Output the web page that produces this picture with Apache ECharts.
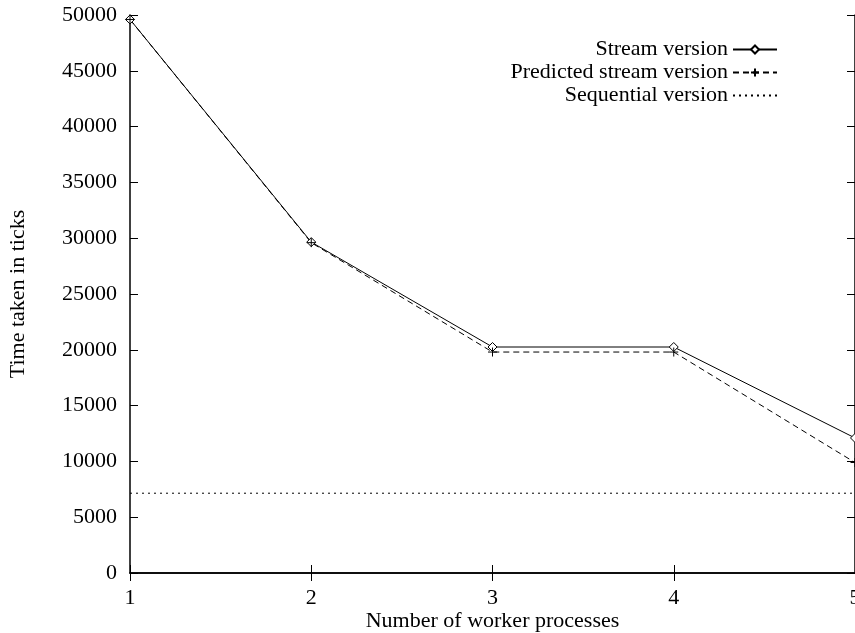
<!DOCTYPE html>
<html><head><meta charset="utf-8">
<script src="https://cdn.jsdelivr.net/npm/echarts@6/dist/echarts.min.js"></script>
<style>html,body{margin:0;padding:0;background:#fff}#c{width:855px;height:633px}</style>
</head><body><div id="c"></div>
<script>
const workers = [1, 2, 3, 4, 5];
const streamTimes = [49600, 29650, 20250, 20250, 12100];
const predictedTimes = [49600, 29600, 19800, 19800, 9900];
const sequentialTime = 7150;
const seriesNames = ['Stream version', 'Predicted stream version', 'Sequential version'];
const xTitle = 'Number of worker processes';
const yTitle = 'Time taken in ticks';

const FONT = 'Liberation Serif';
const FS = 22;
const chart = echarts.init(document.getElementById('c'), null, {renderer: 'canvas'});
const pair = (xs, ys) => xs.map((x, i) => [x, ys[i]]);
const plus = 'path://M0,5L10,5M5,0L5,10';
const baseAxis = {
  axisLine: {show: true, lineStyle: {color: '#000', width: 1.5}},
  axisTick: {show: true, inside: true, length: 8, lineStyle: {color: '#000', width: 1}},
  splitLine: {show: false},
};
chart.setOption({
  animation: false,
  textStyle: {fontFamily: FONT, color: '#000'},
  grid: {left: 130, right: 0, top: 15, bottom: 60, containLabel: false, outerBoundsMode: 'none'},
  legend: {
    orient: 'vertical', right: 72, top: 33, align: 'right', itemGap: 0,
    itemWidth: 44, itemHeight: 10,
    textStyle: {fontFamily: FONT, fontSize: FS, color: '#000', width: 300, align: 'right', lineHeight: 23, padding: 0},
    data: seriesNames
  },
  xAxis: [
    Object.assign({}, baseAxis, {type: 'value', min: 1, max: 5, interval: 1, position: 'bottom',
      name: xTitle, nameLocation: 'middle', nameGap: 37, nameMoveOverlap: false,
      nameTextStyle: {fontFamily: FONT, fontSize: FS, color: '#000'},
      axisLabel: {fontFamily: FONT, fontSize: FS, color: '#000', margin: 14, formatter: v => String(v)}}),
    Object.assign({}, baseAxis, {type: 'value', min: 1, max: 5, interval: 1, position: 'top',
      axisLabel: {show: false}})
  ],
  yAxis: [
    Object.assign({}, baseAxis, {type: 'value', min: 0, max: 50000, interval: 5000, position: 'left',
      name: yTitle, nameLocation: 'middle', nameGap: 101, nameRotate: 90, nameMoveOverlap: false,
      nameTextStyle: {fontFamily: FONT, fontSize: FS, color: '#000'},
      axisLabel: {fontFamily: FONT, fontSize: FS, color: '#000', margin: 13, formatter: v => String(v)}}),
    Object.assign({}, baseAxis, {type: 'value', min: 0, max: 50000, interval: 5000, position: 'right',
      axisLabel: {show: false}})
  ],
  series: [
    {name: seriesNames[0], type: 'line', data: pair(workers, streamTimes),
      symbol: 'diamond', symbolSize: 9, showAllSymbol: true,
      lineStyle: {color: '#000', width: 1}, itemStyle: {color: '#fff', borderColor: '#000', borderWidth: 1}},
    {name: seriesNames[1], type: 'line', data: pair(workers, predictedTimes),
      symbol: plus, symbolSize: 9, showAllSymbol: true,
      lineStyle: {color: '#000', width: 1, type: [6, 4]}, itemStyle: {color: '#000', borderColor: '#000', borderWidth: 1}},
    {name: seriesNames[2], type: 'line', data: pair([workers[0], workers[workers.length - 1]], [sequentialTime, sequentialTime]),
      symbol: 'circle', symbolSize: 0, showSymbol: false,
      lineStyle: {color: '#000', width: 1, type: [2, 4]}, itemStyle: {color: '#000', opacity: 0}}
  ]
});
</script></body></html>
